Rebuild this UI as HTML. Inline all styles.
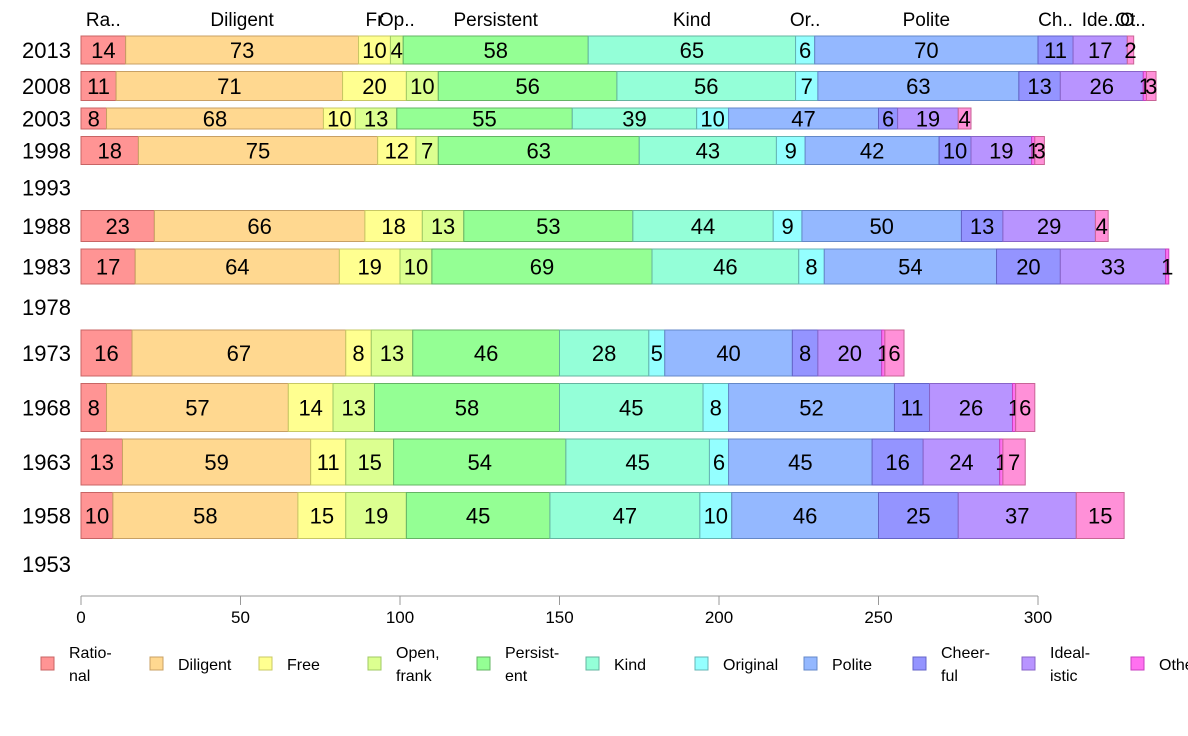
<!DOCTYPE html>
<html><head><meta charset="utf-8">
<style>
html,body{margin:0;padding:0;background:#fff;width:1188px;height:736px;overflow:hidden}
svg{display:block;font-family:"Liberation Sans",Arial,sans-serif}
</style></head>
<body>
<svg id="chart" width="1188" height="736" viewBox="0 0 1188 736" xmlns="http://www.w3.org/2000/svg">
<g id="rows"></g>
<g id="toplabels"></g>
<g id="axis"></g>
<g id="legend"></g>
</svg>
<script>
const years = ["2013","2008","2003","1998","1993","1988","1983","1978","1973","1968","1963","1958","1953"];
const rowWeight = [28,29,21,28,31,31,35,31,46,48,46,46,36];
const categories = ["Rational","Diligent","Free","Open, frank","Persistent","Kind","Original","Polite","Cheerful","Idealistic","Other","NA"];
const headerLabels = ["Ra..","Diligent","Fr","Op..","Persistent","Kind","Or..","Polite","Ch..","Ide..","O","Ot.."];
const legendLabels = [["Ratio-","nal"],["Diligent"],["Free"],["Open,","frank"],["Persist-","ent"],["Kind"],["Original"],["Polite"],["Cheer-","ful"],["Ideal-","istic"],["Other"]];
const v2013 = [14,73,10,4,58,65,6,70,11,17,0,2];
const v2008 = [11,71,20,10,56,56,7,63,13,26,1,3];
const v2003 = [8,68,10,13,55,39,10,47,6,19,0,4];
const v1998 = [18,75,12,7,63,43,9,42,10,19,1,3];
const v1993 = [];
const v1988 = [23,66,18,13,53,44,9,50,13,29,0,4];
const v1983 = [17,64,19,10,69,46,8,54,20,33,1,0];
const v1978 = [];
const v1973 = [16,67,8,13,46,28,5,40,8,20,1,6];
const v1968 = [8,57,14,13,58,45,8,52,11,26,1,6];
const v1963 = [13,59,11,15,54,45,6,45,16,24,1,7];
const v1958 = [10,58,15,19,45,47,10,46,25,37,0,15];
const v1953 = [];
const xTicks = [0,50,100,150,200,250,300];

const seriesByYear = [v2013,v2008,v2003,v1998,v1993,v1988,v1983,v1978,v1973,v1968,v1963,v1958,v1953];
const fills = ["#ff9494","#ffd890","#ffff90","#dcff90","#94ff94","#94ffd8","#94ffff","#94b8ff","#9494ff","#b894ff","#ff70f0","#ff90d8"];
const strokes = ["#c86464","#c8a064","#c8c864","#a0c864","#64b464","#64b4a0","#64b4b4","#6488c8","#6464c8","#8864c8","#c840c0","#c86496"];
const NS = "http://www.w3.org/2000/svg";
const X0 = 81, X1 = 1038, TOP = 36, GAP = 7.5;
const x = v => X0 + v * (X1 - X0) / 300;
function mk(tag, attrs, parent){const e=document.createElementNS(NS,tag);for(const k in attrs)e.setAttribute(k,attrs[k]);parent.appendChild(e);return e;}

const rowsG = document.getElementById('rows');
let y = TOP;
years.forEach((yr, r) => {
  const h = rowWeight[r];
  const g = mk('g', {}, rowsG);
  
  
  const lab = mk('text', {x: 71, y: y + h/2 + 8, 'text-anchor': 'end', 'font-size': 22, fill: '#000'}, g);
  lab.textContent = yr;
  
  
  const vals = seriesByYear[r];
  let cum = 0;
  vals.forEach((v, c) => {
    const xa = x(cum), xb = x(cum + v);
    cum += v;
    if (v <= 0) return;
    const rect = mk('rect', {x: xa, y: y, width: xb - xa, height: h, fill: fills[c], stroke: strokes[c], 'stroke-width': 1}, g);
    
    
    const t = mk('text', {x: (xa + xb)/2, y: y + h/2 + 8, 'text-anchor': 'middle', 'font-size': 22, fill: '#000'}, g);
    t.textContent = v;
    
    
  });
  if (r === 0) {
    const tg = document.getElementById('toplabels');
    let c2 = 0;
    vals.forEach((v, c) => {
      const cx = (x(c2) + x(c2 + v)) / 2; c2 += v;
      const t = mk('text', {x: cx, y: 26, 'text-anchor': 'middle', 'font-size': 19, fill: '#000'}, tg);
      t.textContent = headerLabels[c];
      
      
    });
  }
  y += h + GAP;
});

const ax = document.getElementById('axis');
const AY = 596;
const axl = mk('line', {x1: X0, y1: AY, x2: X1, y2: AY, stroke: '#999', 'stroke-width': 1}, ax);


xTicks.forEach(tv => {
  const tl = mk('line', {x1: x(tv), y1: AY, x2: x(tv), y2: AY + 9, stroke: '#999', 'stroke-width': 1}, ax);
  
  
  const tt = mk('text', {x: x(tv), y: 623, 'text-anchor': 'middle', 'font-size': 17, fill: '#000'}, ax);
  tt.textContent = tv;
  
  
});

const lg = document.getElementById('legend');
legendLabels.forEach((lines, i) => {
  const bx = 41 + i * 109;
  const g = mk('g', {}, lg);
  
  
  mk('rect', {x: bx, y: 657, width: 13, height: 13, fill: fills[i], stroke: strokes[i], 'stroke-width': 1}, g);
  lines.forEach((ln, k) => {
    const ty = lines.length === 1 ? 670 : 658 + k * 23;
    const t = mk('text', {x: bx + 28, y: ty, 'font-size': 16, fill: '#000'}, g);
    t.textContent = ln;
  });
});
</script>
</body></html>
